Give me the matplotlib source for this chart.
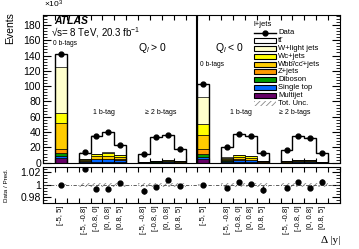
import matplotlib
matplotlib.use("Agg")
import matplotlib.pyplot as plt
import numpy as np
from matplotlib.patches import Rectangle
from matplotlib.lines import Line2D
from matplotlib.ticker import MultipleLocator

plt.rcParams["font.family"] = ["Liberation Sans", "DejaVu Sans"]
plt.rcParams["mathtext.fontset"] = "custom"
plt.rcParams["mathtext.rm"] = "Liberation Sans"
plt.rcParams["mathtext.it"] = "Liberation Sans:italic"
plt.rcParams["hatch.linewidth"] = 0.6

# ---- data (x10^3 events) -------------------------------------------------
bin_labels = ["[-5, 5]",
              "[-5, -0.8]", "[-0.8, 0]", "[0, 0.8]", "[0.8, 5]",
              "[-5, -0.8]", "[-0.8, 0]", "[0, 0.8]", "[0.8, 5]",
              "[-5, 5]",
              "[-5, -0.8]", "[-0.8, 0]", "[0, 0.8]", "[0.8, 5]",
              "[-5, -0.8]", "[-0.8, 0]", "[0, 0.8]", "[0.8, 5]"]
group_start = [1, 3, 8, 13, 15, 20]
group_size = [1, 4, 4, 1, 4, 4]

data = [142.0, 13.6, 35.3, 39.5, 23.5, 11.4, 33.2, 36.2, 17.5,
        102.5, 20.5, 37.3, 34.5, 13.1, 16.6, 35.3, 32.7, 12.3]

multijet = [5.8, 1.0, 1.2, 1.2, 1.2, 0.3, 0.4, 0.4, 0.4,
            4.4, 1.0, 1.2, 1.2, 0.6, 0.4, 0.5, 0.5, 0.3]
single_top = [3.0, 1.0, 3.0, 3.2, 2.6, 0.5, 1.1, 1.3, 0.8,
              2.7, 1.8, 2.6, 2.3, 0.8, 0.9, 1.5, 1.5, 0.5]
diboson = [3.5, 0.1, 0.2, 0.2, 0.2, 0.0, 0.1, 0.1, 0.0,
           4.0, 0.2, 0.2, 0.2, 0.1, 0.1, 0.1, 0.1, 0.0]
zjets = [5.2, 0.3, 0.4, 0.4, 0.4, 0.1, 0.1, 0.1, 0.1,
         6.8, 0.4, 0.5, 0.4, 0.1, 0.1, 0.1, 0.1, 0.1]
wbb = [34.5, 1.2, 3.6, 4.2, 3.2, 0.3, 0.6, 0.7, 0.5,
       18.3, 2.0, 3.0, 2.4, 0.6, 0.5, 0.9, 0.9, 0.3]
wc = [12.6, 0.6, 3.0, 3.5, 2.2, 0.1, 0.2, 0.3, 0.2,
      14.4, 1.2, 2.4, 1.8, 0.3, 0.1, 0.3, 0.3, 0.1]
wlight = [61.0, 0.3, 0.6, 0.8, 0.7, 0.0, 0.1, 0.1, 0.0,
          34.9, 0.4, 0.6, 0.5, 0.1, 0.1, 0.1, 0.1, 0.0]
ttbar = [16.5, 8.8, 23.5, 26.3, 12.9, 10.2, 30.75, 32.95, 15.5,
         17.0, 13.6, 26.6, 25.7, 10.6, 14.5, 31.65, 29.4, 10.95]

ratio = [1.000, 1.0256, 0.9935, 0.9935, 1.0035, 0.990, 0.9956, 1.007, 0.9984,
         1.000, 0.9946, 1.0044, 1.001, 0.992, 0.995, 1.0044, 0.9946, 1.0044]
ratio_err = [0.0008, 0.004, 0.003, 0.0025, 0.003, 0.005, 0.003, 0.003, 0.003,
             0.0008, 0.003, 0.003, 0.003, 0.006, 0.004, 0.003, 0.003, 0.004]
tot_unc = [0.001, 0.0035, 0.0035, 0.0035, 0.0035, 0.0035, 0.0035, 0.0035, 0.0035,
           0.001, 0.0035, 0.0035, 0.0035, 0.0035, 0.0035, 0.0035, 0.0035, 0.0035]

bkg_names = ["Multijet", "Single top", "Diboson", "Z+jets",
             "Wbb\u0304/cc\u0304+jets", "Wc+jets", "W+light jets"]
bkg_values = [multijet, single_top, diboson, zjets, wbb, wc, wlight]
bkg_colors = ["#660066", "#0066ff", "#009900", "#ff9900",
              "#ffcc00", "#ffff00", "#ffffcc"]

# ---- derived -------------------------------------------------------------
xpos = np.concatenate([np.arange(s, s + n) for s, n in zip(group_start, group_size)])
centers = xpos + 0.5
bkg = np.array(bkg_values)
total = bkg.sum(axis=0) + np.array(ttbar)

W, H = 359, 249
fig = plt.figure(figsize=(W / 100, H / 100), dpi=100)


def fx(x):
    return x / W


def fy(y):
    return 1 - y / H


ax = fig.add_axes([fx(43), fy(162.7), fx(340) - fx(43), fy(15) - fy(162.7)])
axr = fig.add_axes([fx(43), fy(202.7), fx(340) - fx(43), fy(166.7) - fy(202.7)])

# stacked backgrounds
bottom = np.zeros(len(xpos))
for vals, col in zip(bkg, bkg_colors):
    ax.bar(xpos, vals, width=1, bottom=bottom, align="edge", color=col,
           edgecolor="black", linewidth=0.5)
    bottom += vals

# total prediction outline (ttbar on top, white) and uncertainty hatching
i = 0
for s, n in zip(group_start, group_size):
    unc = np.array(tot_unc[i:i + n])
    ax.stairs(total[i:i + n], np.arange(s, s + n + 1), baseline=0,
              color="black", linewidth=1.0)
    ax.bar(xpos[i:i + n], 2 * unc * total[i:i + n], width=1,
           bottom=total[i:i + n] * (1 - unc), align="edge", fill=False,
           edgecolor="#888888", linewidth=0, hatch="//////")
    axr.bar(xpos[i:i + n], 2 * unc, width=1, bottom=1 - unc, align="edge",
            fill=False, edgecolor="#888888", linewidth=0, hatch="//////")
    i += n

ax.plot(centers, data, "o", color="black", markersize=3.5)
ax.axvline(13, color="black", linewidth=1.5)

ax.set_xlim(0, 25)
ax.set_ylim(0, 193)
ax.yaxis.set_major_locator(MultipleLocator(20))
ax.yaxis.set_minor_locator(MultipleLocator(4))
ax.set_xticks(np.arange(0, 26))
ax.tick_params(axis="both", which="both", direction="in", top=True, right=True,
               labelsize=7.5, pad=1.5)
ax.tick_params(axis="x", which="major", length=3.5, labelbottom=False)
ax.tick_params(axis="y", which="major", length=6)
ax.tick_params(axis="y", which="minor", length=3)

# ratio panel
axr.axhline(1, color="#444444", linewidth=0.6, linestyle=(0, (4, 2, 1, 2)))
axr.errorbar(centers, ratio, yerr=ratio_err, fmt="o", color="black",
             markersize=3.5, elinewidth=1.0, capsize=0)
axr.set_xlim(0, 25)
axr.set_ylim(0.971, 1.029)
axr.set_yticks([0.98, 1.0, 1.02], ["0.98", "1", "1.02"])
axr.yaxis.set_minor_locator(MultipleLocator(0.005))
axr.set_xticks(np.arange(0, 26))
axr.set_xticks(centers, bin_labels, minor=True, rotation=90, fontsize=5.5)
axr.tick_params(axis="both", which="both", direction="in", top=True, right=True)
axr.tick_params(axis="x", which="major", length=3.5, labelbottom=False)
axr.tick_params(axis="x", which="minor", length=0, pad=2)
axr.tick_params(axis="y", which="major", length=6, labelsize=7.5, pad=1.5)
axr.tick_params(axis="y", which="minor", length=3)

# texts
fig.text(fx(44), fy(10.5), r"$\times$10$^{3}$", fontsize=6, ha="left", va="bottom")
fig.text(fx(10), fy(12), "Events", rotation=90, fontsize=7.5, ha="center", va="top")
fig.text(fx(7), fy(185), "Data / Pred.", rotation=90, fontsize=4.5, ha="center", va="center")
fig.text(fx(340), fy(240), "Δ |y|", fontsize=8, ha="right", va="center",
         family=["Liberation Serif", "DejaVu Serif"])

fig.text(fx(54), fy(21), "ATLAS", fontsize=7.5, weight="bold", style="italic",
         ha="left", va="center")
fig.text(fx(51), fy(33), "√s= 8 TeV, 20.3 fb$^{-1}$", fontsize=7, ha="left", va="center")
fig.text(fx(53), fy(43.5), "0 b-tags", fontsize=4.8, ha="left", va="center")
fig.text(fx(138), fy(48), r"Q$_{l}$ > 0", fontsize=7.5, ha="left", va="center")
fig.text(fx(104), fy(113), "1 b-tag", fontsize=5, ha="center", va="center")
fig.text(fx(161), fy(113), "≥ 2 b-tags", fontsize=5, ha="center", va="center")
fig.text(fx(215), fy(47.5), r"Q$_{l}$ < 0", fontsize=7.5, ha="left", va="center")
fig.text(fx(200), fy(64), "0 b-tags", fontsize=4.8, ha="left", va="center")
fig.text(fx(241), fy(113), "1 b-tag", fontsize=5, ha="center", va="center")
fig.text(fx(295), fy(113), "≥ 2 b-tags", fontsize=5, ha="center", va="center")

# legend (drawn by hand, ATLAS style)
leg_names = ["Data", "tt\u0304"] + bkg_names[::-1] + ["Tot. Unc."]
leg_colors = [None, "white"] + bkg_colors[::-1] + [None]
fig.text(fx(254), fy(25), "l+jets", fontsize=5.5, ha="left", va="center")
for k, (name, col) in enumerate(zip(leg_names, leg_colors)):
    yc = 32.7 + k * 7.85
    if k == 0:
        fig.add_artist(Line2D([fx(254), fx(276)], [fy(yc), fy(yc)], color="black",
                              linewidth=1.0))
        fig.add_artist(Line2D([fx(265)], [fy(yc)], marker="o", color="black",
                              markersize=3.5))
    elif col is None:
        fig.add_artist(Rectangle((fx(254), fy(yc + 2.5)), fx(22), 5 / H, fill=False,
                                 edgecolor="#888888", linewidth=0, hatch="//////"))
    else:
        fig.add_artist(Rectangle((fx(254), fy(yc + 2.5)), fx(22), 5 / H,
                                 facecolor=col, edgecolor="black", linewidth=0.8))
    fig.text(fx(278), fy(yc), name, fontsize=5.5, ha="left", va="center")

fig.savefig("out.png", dpi=100)
